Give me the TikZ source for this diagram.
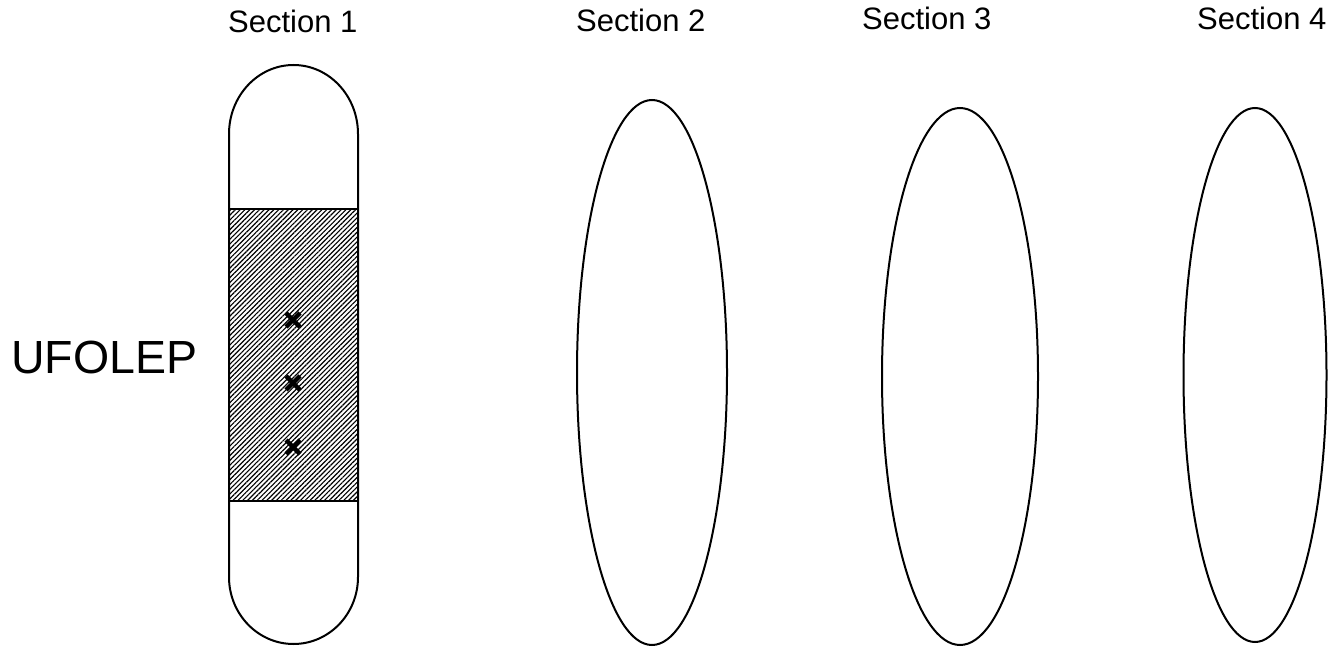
\documentclass[tikz,border=0pt]{standalone}
\usepackage{fontspec}
\setmainfont{Liberation Sans}
\usetikzlibrary{patterns.meta}
\tikzset{
  outline/.style={draw=black, line width=2pt},
  hatchfill/.style={pattern={Lines[angle=45, distance=3.4pt, line width=1.15pt]}, pattern color=black},
  xmark/.style={line width=4.4pt, line cap=butt},
  seclabel/.style={anchor=base west, inner sep=0pt, font=\fontsize{31}{31}\selectfont},
  biglabel/.style={anchor=base west, inner sep=0pt, font=\fontsize{46.5}{46.5}\selectfont}
}
\begin{document}
\begin{tikzpicture}[x=1pt, y=-1pt]
\useasboundingbox (0,0) rectangle (1333,647);
% labels
\node[seclabel] (l1) at (228,33) {Section 1};
\node[seclabel] (l2) at (576,32) {Section 2};
\node[seclabel] (l3) at (862,30) {Section 3};
\node[seclabel] (l4) at (1197,30) {Section 4};
\node[biglabel] (uf) at (11,373) {UFOLEP};
% capsule (section 1)
\fill[hatchfill] (229,209) rectangle (358,501);
\draw[outline] (229,134) arc[start angle=180, end angle=360, x radius=64.5, y radius=69]
  -- (358,577) arc[start angle=0, end angle=180, x radius=64.5, y radius=67] -- cycle;
\draw[outline] (229,209) -- (358,209);
\draw[outline] (229,501) -- (358,501);
% crosses
\foreach \yy/\nm in {320/c1, 383/c2, 447/c3}{
  \coordinate (\nm) at (293,\yy);
  \draw[xmark] ([shift={(-7,-7)}]\nm) -- ([shift={(7,7)}]\nm);
  \draw[xmark] ([shift={(-7,7)}]\nm) -- ([shift={(7,-7)}]\nm);
}
% ellipses
\draw[outline] (652,372.5) ellipse [x radius=75, y radius=272.5];
\draw[outline] (960,376.5) ellipse [x radius=78, y radius=268.5];
\draw[outline] (1255,375) ellipse [x radius=71.5, y radius=267];
\end{tikzpicture}
\end{document}
